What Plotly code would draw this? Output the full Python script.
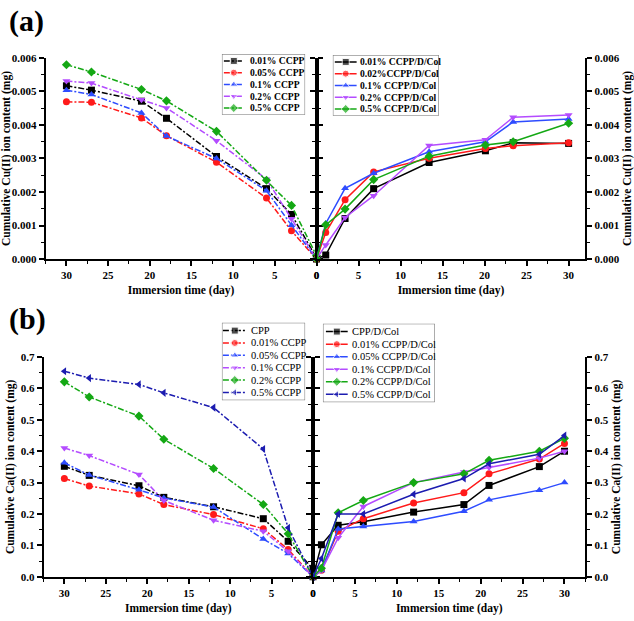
import plotly.graph_objects as go

# ---------------- data ----------------
A_LEFT_X = [30, 27, 21, 18, 12, 6, 3, 0]
A_LEFT_NAMES = ["0.01% CCPP", "0.05% CCPP", "0.1% CCPP", "0.2% CCPP", "0.5% CCPP"]
A_LEFT_Y = [
    [0.00517, 0.00504, 0.00471, 0.00420, 0.00306, 0.00210, 0.00133, 0.00003],
    [0.00469, 0.00468, 0.00421, 0.00368, 0.00289, 0.00182, 0.00084, 0.00000],
    [0.00504, 0.00491, 0.00436, 0.00367, 0.00300, 0.00204, 0.00101, 0.00000],
    [0.00531, 0.00525, 0.00475, 0.00451, 0.00353, 0.00238, 0.00120, 0.00000],
    [0.00580, 0.00558, 0.00506, 0.00472, 0.00381, 0.00235, 0.00160, 0.00010],
]

A_RIGHT_X = [0, 1.1, 3.4, 6.8, 13.4, 20.1, 23.4, 30]
A_RIGHT_NAMES = ["0.01% CCPP/D/Col", "0.02%CCPP/D/Col", "0.1% CCPP/D/Col",
                 "0.2% CCPP/D/Col", "0.5% CCPP/D/Col"]
A_RIGHT_Y = [
    [0.0, 0.00012, 0.00121, 0.00210, 0.00288, 0.00323, 0.00347, 0.00345],
    [0.0, 0.00079, 0.00177, 0.00260, 0.00301, 0.00330, 0.00338, 0.00347],
    [0.0, 0.00106, 0.00211, 0.00256, 0.00320, 0.00350, 0.00409, 0.00418],
    [0.0, 0.00042, 0.00124, 0.00189, 0.00339, 0.00356, 0.00423, 0.00430],
    [0.0, 0.00102, 0.00149, 0.00237, 0.00307, 0.00340, 0.00350, 0.00405],
]

B_LEFT_X = [30, 27, 21, 18, 12, 6, 3, 0]
B_LEFT_NAMES = ["CPP", "0.01% CCPP", "0.05% CCPP", "0.1% CCPP", "0.2% CCPP", "0.5% CCPP"]
B_LEFT_Y = [
    [0.352, 0.323, 0.290, 0.253, 0.223, 0.185, 0.113, 0.025],
    [0.313, 0.289, 0.264, 0.230, 0.198, 0.153, 0.087, 0.000],
    [0.363, 0.324, 0.277, 0.251, 0.222, 0.120, 0.074, 0.000],
    [0.410, 0.386, 0.326, 0.243, 0.180, 0.145, 0.081, 0.000],
    [0.621, 0.573, 0.512, 0.438, 0.345, 0.230, 0.137, 0.000],
    [0.655, 0.633, 0.613, 0.586, 0.539, 0.407, 0.156, 0.000],
]

B_RIGHT_X = [0, 1, 3, 6, 12, 18, 21, 27, 30]
B_RIGHT_NAMES = ["CPP/D/Col", "0.01% CCPP/D/Col", "0.05% CCPP/D/Col",
                 "0.1% CCPP/D/Col", "0.2% CCPP/D/Col", "0.5% CCPP/D/Col"]
B_RIGHT_Y = [
    [0.0, 0.102, 0.164, 0.175, 0.206, 0.230, 0.291, 0.351, 0.400],
    [0.0, 0.021, 0.145, 0.185, 0.235, 0.268, 0.328, 0.375, 0.425],
    [0.0, 0.020, 0.152, 0.160, 0.176, 0.209, 0.245, 0.276, 0.300],
    [0.0, 0.020, 0.124, 0.224, 0.300, 0.334, 0.348, 0.378, 0.400],
    [0.0, 0.027, 0.204, 0.243, 0.300, 0.328, 0.371, 0.400, 0.441],
    [0.0, 0.058, 0.200, 0.200, 0.263, 0.313, 0.360, 0.390, 0.450],
]

A_COLORS = ["#000000", "#ff1a1a", "#2e4cff", "#b44cff", "#14a814"]
B_COLORS = ["#000000", "#ff1a1a", "#2e4cff", "#b44cff", "#14a814", "#1c1cb0"]
SYMBOLS = ["square", "circle", "triangle-up", "triangle-down", "diamond", "triangle-left"]

# ---------------- figure ----------------
W, H = 634, 621
SERIF = "Liberation Serif"
DASHDOT = "6px,2px,2px,2px"
MSIZE = 7
LWIDTH = 1.5

fig = go.Figure()


def px_x(p):
    return p / W


def px_y(p):
    return 1 - p / H


def add_series(xs, ys_list, colors, names, xa, ya, dash):
    for i, ys in enumerate(ys_list):
        fig.add_trace(go.Scatter(
            x=xs, y=ys, mode="lines+markers", name=names[i],
            xaxis=xa, yaxis=ya, showlegend=False, cliponaxis=False,
            line=dict(color=colors[i], width=LWIDTH, dash=dash),
            marker=dict(symbol=SYMBOLS[i], size=MSIZE, color=colors[i]),
        ))


add_series(A_LEFT_X, A_LEFT_Y, A_COLORS, A_LEFT_NAMES, "x", "y", DASHDOT)
add_series(A_RIGHT_X, A_RIGHT_Y, A_COLORS, A_RIGHT_NAMES, "x2", "y2", "solid")
add_series(B_LEFT_X, B_LEFT_Y, B_COLORS, B_LEFT_NAMES, "x3", "y3", DASHDOT)
add_series(B_RIGHT_X, B_RIGHT_Y, B_COLORS, B_RIGHT_NAMES, "x4", "y4", "solid")

tickfont = dict(family=SERIF, size=11, color="black", weight="bold")
titlefont = dict(family=SERIF, size=11.5, color="black", weight="bold")


def xaxis(domain, rng, anchor):
    return dict(domain=domain, range=rng, anchor=anchor, showline=True, linecolor="black",
                linewidth=1.8, ticks="outside", ticklen=5, tickwidth=1.5, tickcolor="black",
                dtick=5, tick0=0, showgrid=False, zeroline=False, tickfont=tickfont,
                minor=dict(dtick=2.5, ticks="outside", ticklen=3, tickwidth=1.3, tickcolor="black"),
                title=dict(text="Immersion time (day)", font=titlefont, standoff=6))


def yaxis(domain, rng, anchor, dtick, fmt, side, title):
    return dict(domain=domain, range=rng, anchor=anchor, side=side, showline=True,
                linecolor="black", linewidth=1.8, mirror="ticks", ticks="outside",
                ticklen=5, tickwidth=1.5, tickcolor="black", dtick=dtick, tick0=0,
                tickformat=fmt, showgrid=False, zeroline=False, tickfont=tickfont,
                minor=dict(dtick=dtick / 2, ticks="outside", ticklen=3, tickwidth=1.3,
                           tickcolor="black"),
                title=dict(text=title, font=titlefont, standoff=4))


CU = "Cumulative Cu(II) ion content (mg)"
CA = "Cumulative Ca(II) ion content (mg)"
A_YDOM = [px_y(258), px_y(53)]
B_YDOM = [px_y(582), px_y(358)]

layout = dict(
    width=W, height=H, margin=dict(l=0, r=0, t=0, b=0),
    paper_bgcolor="white", plot_bgcolor="rgba(0,0,0,0)", showlegend=False,
    xaxis=xaxis([px_x(43), px_x(316.5)], [32.5, 0], "y"),
    yaxis=yaxis(A_YDOM, [0, 0.006], "x", 0.001, ".3f", "left", CU),
    xaxis2=xaxis([px_x(316.5), px_x(588)], [0, 32], "y2"),
    yaxis2=yaxis(A_YDOM, [0, 0.006], "x2", 0.001, ".3f", "right", CU),
    xaxis3=xaxis([px_x(41), px_x(313)], [32.5, 0], "y3"),
    yaxis3=yaxis(B_YDOM, [0, 0.7], "x3", 0.1, ".1f", "left", CA),
    xaxis4=xaxis([px_x(313), px_x(588)], [0, 32.5], "y4"),
    yaxis4=yaxis(B_YDOM, [0, 0.7], "x4", 0.1, ".1f", "right", CA),
)

# ---------------- custom legends (small overlay axes) ----------------
# box: (left, top, right, bottom) in px; line sample span and text start in px
LEGENDS = [
    dict(box=(221, 49, 305, 111), line=(223, 243), text=247, names=A_LEFT_NAMES,
         colors=A_COLORS, dash=DASHDOT, bold=True, size=9.6, pad=7),
    dict(box=(333, 50, 440, 112), line=(335, 357), text=358, names=A_RIGHT_NAMES,
         colors=A_COLORS, dash="solid", bold=True, size=9.6, pad=7),
    dict(box=(221, 323, 305, 402), line=(222, 246), text=248, names=B_LEFT_NAMES,
         colors=B_COLORS, dash=DASHDOT, bold=False, size=10.5, pad=8),
    dict(box=(323, 324, 436, 404), line=(326, 348), text=350, names=B_RIGHT_NAMES,
         colors=B_COLORS, dash="solid", bold=False, size=10.5, pad=8),
]

annotations = []
shapes = []
for k, lg in enumerate(LEGENDS):
    n = 5 + k
    l, t, r, b = lg["box"]
    bw, bh = r - l, b - t
    layout[f"xaxis{n}"] = dict(domain=[px_x(l), px_x(r)], range=[0, bw], visible=False,
                               anchor=f"y{n}", fixedrange=True)
    layout[f"yaxis{n}"] = dict(domain=[px_y(b), px_y(t)], range=[bh, 0], visible=False,
                               anchor=f"x{n}", fixedrange=True)
    shapes.append(dict(type="rect", xref=f"x{n}", yref=f"y{n}", x0=0, x1=bw, y0=0, y1=bh,
                       line=dict(color="#6a6a6a", width=1), fillcolor="rgba(255,255,255,0)"))
    cnt = len(lg["names"])
    step = (bh - 2 * lg["pad"]) / (cnt - 1)
    lx0, lx1 = lg["line"][0] - l, lg["line"][1] - l
    for i, name in enumerate(lg["names"]):
        ry = lg["pad"] + i * step
        fig.add_trace(go.Scatter(
            x=[lx0, (lx0 + lx1) / 2, lx1], y=[ry, ry, ry], mode="lines+markers",
            xaxis=f"x{n}", yaxis=f"y{n}", showlegend=False, hoverinfo="skip",
            line=dict(color=lg["colors"][i], width=LWIDTH, dash=lg["dash"]),
            marker=dict(symbol=SYMBOLS[i], size=[0, MSIZE, 0], color=lg["colors"][i]),
        ))
        annotations.append(dict(
            x=lg["text"] - l, y=ry, xref=f"x{n}", yref=f"y{n}", text=name,
            showarrow=False, xanchor="left", yanchor="middle",
            font=dict(family=SERIF, size=lg["size"], color="black",
                      weight="bold" if lg["bold"] else "normal")))

# panel labels
for lab, yp in [("(a)", 15), ("(b)", 319)]:
    annotations.append(dict(x=px_x(4), y=px_y(yp), xref="paper", yref="paper", text=lab,
                            showarrow=False, xanchor="left", yanchor="middle",
                            font=dict(family=SERIF, size=30, color="black", weight="bold")))

layout["annotations"] = annotations
layout["shapes"] = shapes
fig.update_layout(**layout)

fig.write_html("out.html")
